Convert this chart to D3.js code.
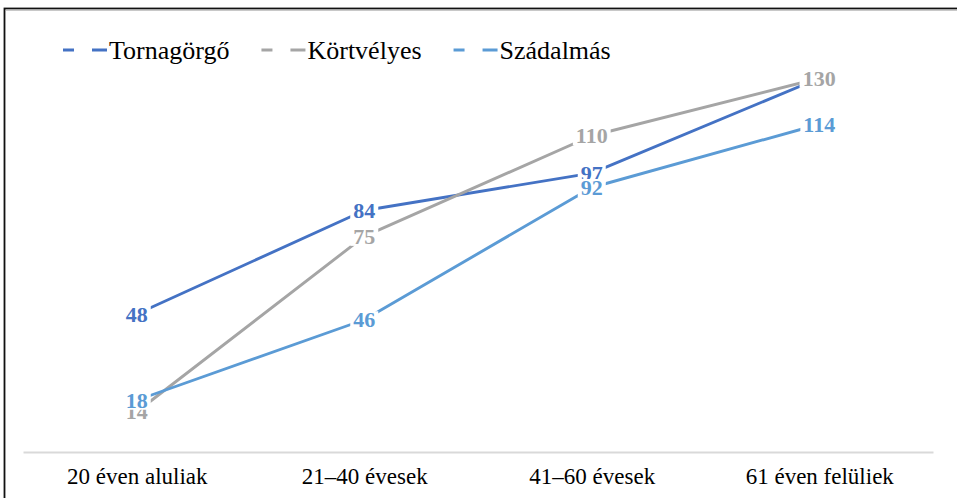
<!DOCTYPE html>
<html lang="hu">
<head>
    <meta charset="UTF-8">
    <title>Korcsoportok</title>
    <script src="https://d3js.org/d3.v7.min.js"></script>
    <style>
        body { margin: 0; background: #fff; }
    </style>
</head>
<body>
    <script>
        // data
        var categories = ["20 éven aluliak", "21–40 évesek", "41–60 évesek", "61 éven felüliek"];
        var seriesNames = ["Tornagörgő", "Körtvélyes", "Szádalmás"];
        var tornagorgo = [48, 84, 97, 130];
        var kortvelyes = [14, 75, 110, 130];
        var szadalmas = [18, 46, 92, 114];
        var colors = ["#4472C4", "#A5A5A5", "#5B9BD5"];

        var w = 957, h = 498;
        var font = "'Liberation Serif', 'Times New Roman', 'DejaVu Serif', serif";
        var series = [tornagorgo, kortvelyes, szadalmas].map(function(vals, i) {
            return { name: seriesNames[i], color: colors[i], values: vals };
        });

        var svg = d3.select("body").append("svg")
            .attr("width", w)
            .attr("height", h)
            .style("font-family", font);

        // frame (right and bottom edges are outside the picture)
        svg.append("rect")
            .attr("x", 4.5).attr("y", 8.5)
            .attr("width", 1000).attr("height", 1000)
            .attr("fill", "none")
            .attr("stroke", "#111")
            .attr("stroke-width", 1.8);
        svg.append("line")
            .attr("x1", 6).attr("x2", w).attr("y1", 10.3).attr("y2", 10.3)
            .attr("stroke", "#bbb").attr("stroke-width", 1);

        var x = d3.scalePoint()
            .domain(categories)
            .range([23, 933])
            .padding(0.5);

        var y = d3.scaleLinear()
            .domain([0, 140])
            .range([452, 49.5]);

        // category axis
        var xAxis = svg.append("g")
            .attr("transform", "translate(0,452)")
            .call(d3.axisBottom(x).tickSize(0).tickPadding(16));
        xAxis.attr("font-family", null).attr("font-size", null);
        xAxis.select(".domain").attr("stroke", "#d9d9d9").attr("stroke-width", 2);
        xAxis.selectAll("text")
            .style("font-family", font)
            .attr("font-size", 23)
            .attr("fill", "#000");

        var line = d3.line()
            .x(function(d, i) { return x(categories[i]); })
            .y(function(d) { return y(d); });

        svg.selectAll(".series")
            .data(series)
            .enter()
            .append("path")
            .attr("class", "series")
            .attr("d", function(s) { return line(s.values); })
            .attr("fill", "none")
            .attr("stroke", function(s) { return s.color; })
            .attr("stroke-width", 2.9)
            .attr("stroke-linejoin", "round");

        // data labels with white boxes that hide the line beneath them
        series.forEach(function(s) {
            var g = svg.append("g");
            s.values.forEach(function(v, i) {
                var lg = g.append("g")
                    .attr("transform", "translate(" + x(categories[i]) + "," + y(v) + ")");
                var bg = lg.append("rect").attr("fill", "#fff");
                var t = lg.append("text")
                    .text(v)
                    .attr("text-anchor", "middle")
                    .attr("dy", "0.35em")
                    .style("font-family", font)
                    .attr("font-size", 22)
                    .attr("font-weight", "bold")
                    .attr("fill", s.color);
                var bb = t.node().getBBox();
                bg.attr("x", bb.x - 3).attr("y", -8.5)
                    .attr("width", bb.width + 6).attr("height", 18);
            });
        });

        // legend
        var legend = svg.append("g").attr("transform", "translate(63,50)");
        var lx = 0;
        series.forEach(function(s) {
            var item = legend.append("g").attr("transform", "translate(" + lx + ",0)");
            item.append("line")
                .attr("x1", 0).attr("x2", 44)
                .attr("stroke", s.color)
                .attr("stroke-width", 2.9)
                .attr("stroke-dasharray", "11,18,15");
            var t = item.append("text")
                .attr("x", 46)
                .attr("dy", "0.35em")
                .style("font-family", font)
                .attr("font-size", 26)
                .attr("fill", "#000")
                .text(s.name);
            lx += 46 + t.node().getComputedTextLength() + 32;
        });
    </script>
</body>
</html>
